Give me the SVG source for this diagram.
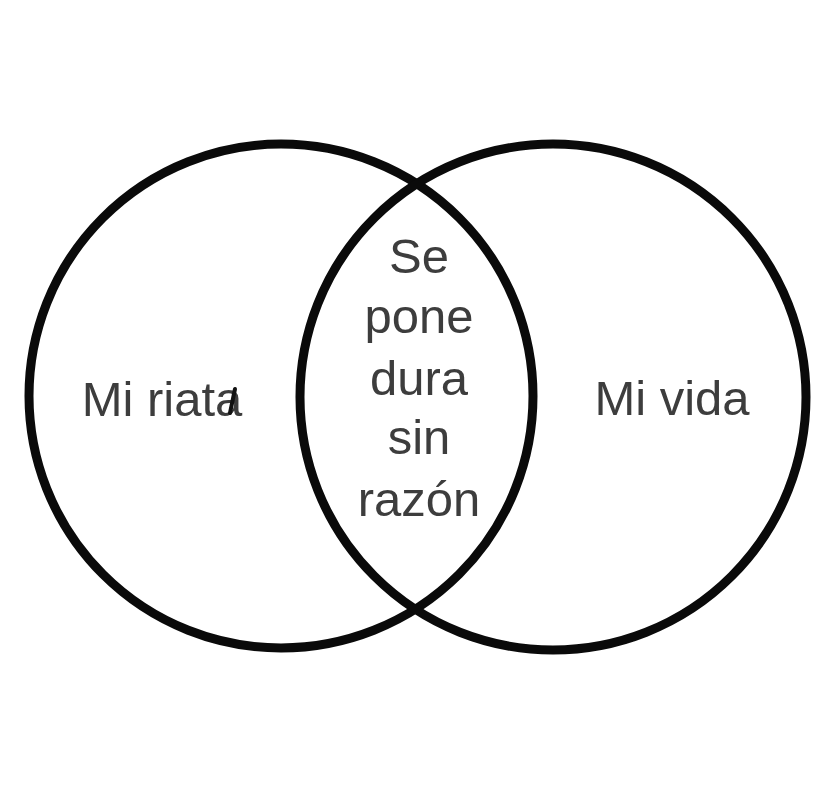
<svg xmlns="http://www.w3.org/2000/svg" width="828" height="796" viewBox="0 0 828 796">
<style>
.ring{fill:none;stroke:#0a0a0a;stroke-width:9}
.lbl{font-family:"Liberation Sans",Arial,sans-serif;font-size:49px;fill:#3d3d3d;text-anchor:middle}
</style>
<rect width="828" height="796" fill="#ffffff"/>
<g id="left-set">
<circle class="ring" cx="281" cy="396" r="252"/>
<text class="lbl" x="162" y="416">Mi riata</text>
<line x1="235" y1="389" x2="230" y2="413" stroke="#111" stroke-width="4" stroke-linecap="round"/>
</g>
<g id="right-set">
<circle class="ring" cx="553" cy="397" r="253"/>
<text class="lbl" x="672" y="415">Mi vida</text>
</g>
<g id="intersection">
<text class="lbl" x="419" y="273">Se</text>
<text class="lbl" x="419" y="333">pone</text>
<text class="lbl" x="419" y="395">dura</text>
<text class="lbl" x="419" y="454">sin</text>
<text class="lbl" x="419" y="516">razón</text>
</g>
<g id="connectors"></g>
</svg>
